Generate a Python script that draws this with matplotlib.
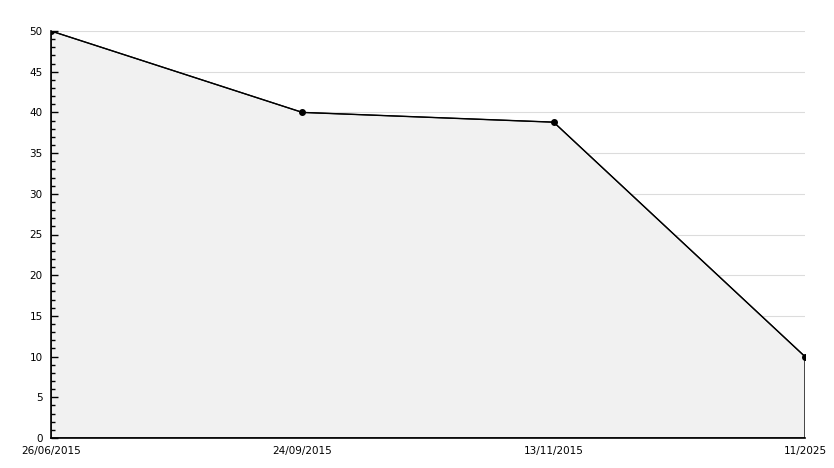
import matplotlib.pyplot as plt
from matplotlib.ticker import MultipleLocator

dates = ['26/06/2015', '24/09/2015', '13/11/2015', '11/2025']
values = [50, 40, 38.8, 10]
grid_levels = range(5, 55, 5)
xs = range(len(dates))

fig = plt.figure(figsize=(8.34, 4.68), dpi=100)
ax = fig.add_axes([51 / 834, 1 - 438 / 468, 754 / 834, 407 / 468])

# grid sits under the shaded area, ticks stay on top
for lvl in grid_levels:
    ax.axhline(lvl, color='#dcdcdc', linewidth=0.8, zorder=0)

ax.fill(list(xs) + [xs[-1], xs[0]], values + [0, 0],
        facecolor='#f1f1f1', edgecolor='black', linewidth=1, zorder=1)
ax.plot(xs, values, color='black', linewidth=0.8, marker='o',
        markersize=4, zorder=3)

ax.set_xlim(0, len(dates) - 1)
ax.set_ylim(0, 50)
ax.set_xticks(list(xs))
ax.set_xticklabels(dates)
ax.yaxis.set_major_locator(MultipleLocator(5))
ax.yaxis.set_minor_locator(MultipleLocator(1))
ax.tick_params(axis='y', direction='in', length=5, width=1, labelsize=7.5, pad=6)
ax.tick_params(axis='y', which='minor', direction='in', length=3, width=1)
ax.tick_params(axis='x', length=0, labelsize=7.5, pad=6)

for side in ['top', 'right']:
    ax.spines[side].set_visible(False)
ax.spines['left'].set_linewidth(1.2)
ax.spines['bottom'].set_linewidth(1.2)
for sp in ax.spines.values():
    sp.set_zorder(4)

fig.savefig('out.png', dpi=100)
